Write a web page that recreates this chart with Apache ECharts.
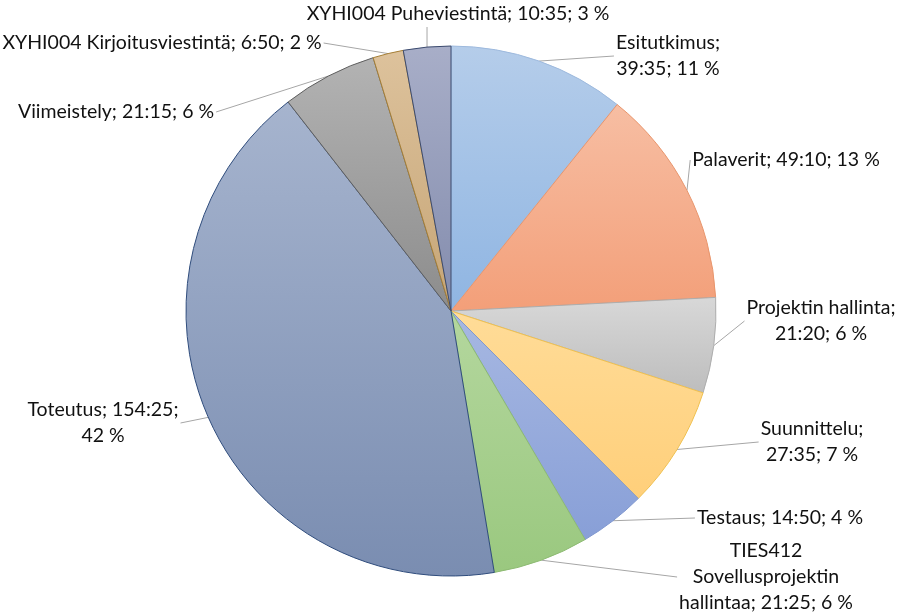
<!DOCTYPE html>
<html><head><meta charset="utf-8">
<script src="https://cdn.jsdelivr.net/npm/echarts@6/dist/echarts.min.js"></script>
<style>html,body{margin:0;padding:0;background:#fff}#c{width:901px;height:612px}</style>
</head><body><div id="c"></div>
<script>
// ---- data ----
const categories = ['Esitutkimus', 'Palaverit', 'Projektin hallinta', 'Suunnittelu', 'Testaus',
  'TIES412 Sovellusprojektin hallintaa', 'Toteutus', 'Viimeistely',
  'XYHI004 Kirjoitusviestintä', 'XYHI004 Puheviestintä'];
const durations = ['39:35', '49:10', '21:20', '27:35', '14:50', '21:25', '154:25', '21:15', '6:50', '10:35'];
const percentLabels = [11, 13, 6, 7, 4, 6, 42, 6, 2, 3];

// ---- styles / layout (not data) ----
const topColors    = ['#B5CDEA', '#F7BEA3', '#D8D8D8', '#FFDC98', '#A7B8E2', '#B4D79E', '#A6B4CE', '#B3B3B3', '#DDC29C', '#A8AEC8'];
const bottomColors = ['#8FB5E2', '#F39F79', '#BDBDBD', '#FFCF7A', '#889FD7', '#9AC87F', '#7A8DB1', '#8C8C8C', '#C6A576', '#838CAD'];
const borderColors = ['#9DB9DD', '#E8956C', '#ADADAD', '#EFC04F', '#7F97CF', '#8DBA72', '#2F4C7C', '#5E5E5E', '#A57E35', '#3B4A6E'];
const labelCenters = [[668, 56], [786, 160], [821, 321], [812, 442], [780, 518], [766, 577], [103, 423], [116, 112], [162, 43], [458, 14]];
const lineBreaks = [[0], [], [1], [0], [], [0, 1], [1], [], [], []];

function toMinutes(s) { const [h, m] = s.split(':').map(Number); return h * 60 + m; }

const data = categories.map((name, i) => ({
  name: name,
  value: toMinutes(durations[i]),
  itemStyle: {
    color: { type: 'linear', x: 0, y: 0, x2: 0, y2: 1,
      colorStops: [{ offset: 0, color: topColors[i] }, { offset: 1, color: bottomColors[i] }] },
    borderColor: borderColors[i]
  }
}));

function labelText(p) {
  const i = p.dataIndex;
  const txt = p.name + '; ' + durations[i] + '; ' + percentLabels[i] + ' %';
  const tokens = txt.split(' ');
  const br = lineBreaks[i];
  let out = '';
  tokens.forEach((t, k) => { out += t; if (k < tokens.length - 1) out += br.indexOf(k) >= 0 ? '\n' : ' '; });
  return out;
}

const chart = echarts.init(document.getElementById('c'), null, { renderer: 'canvas' });
chart.setOption({
  animation: false,
  series: [{
    type: 'pie',
    center: [451, 311],
    radius: 265,
    startAngle: 90,
    clockwise: true,
    avoidLabelOverlap: false,
    data: data,
    itemStyle: { borderWidth: 1 },
    label: {
      show: true, position: 'outside', formatter: labelText,
      fontFamily: 'Lato', fontSize: 19.5, color: '#111', lineHeight: 26, align: 'center'
    },
    labelLine: { show: true, length: 10, length2: 0, lineStyle: { color: '#a6a6a6', width: 1 } },
    emphasis: { disabled: true },
    labelLayout: function (p) {
      const i = p.dataIndex;
      const cx = labelCenters[i][0], cy = labelCenters[i][1];
      const w = p.labelRect.width, h = p.labelRect.height;
      const left = cx - w / 2, right = cx + w / 2, top = cy - h / 2, bottom = cy + h / 2;
      const s = p.labelLinePoints[0];
      let end;
      if (s[0] >= left && s[0] <= right) end = [s[0], s[1] < top ? top : bottom];
      else end = [s[0] < left ? left - 2 : right + 2, cy];
      return { x: cx, y: cy, align: 'center', verticalAlign: 'middle', labelLinePoints: [s, end, end] };
    }
  }]
});
</script></body></html>
